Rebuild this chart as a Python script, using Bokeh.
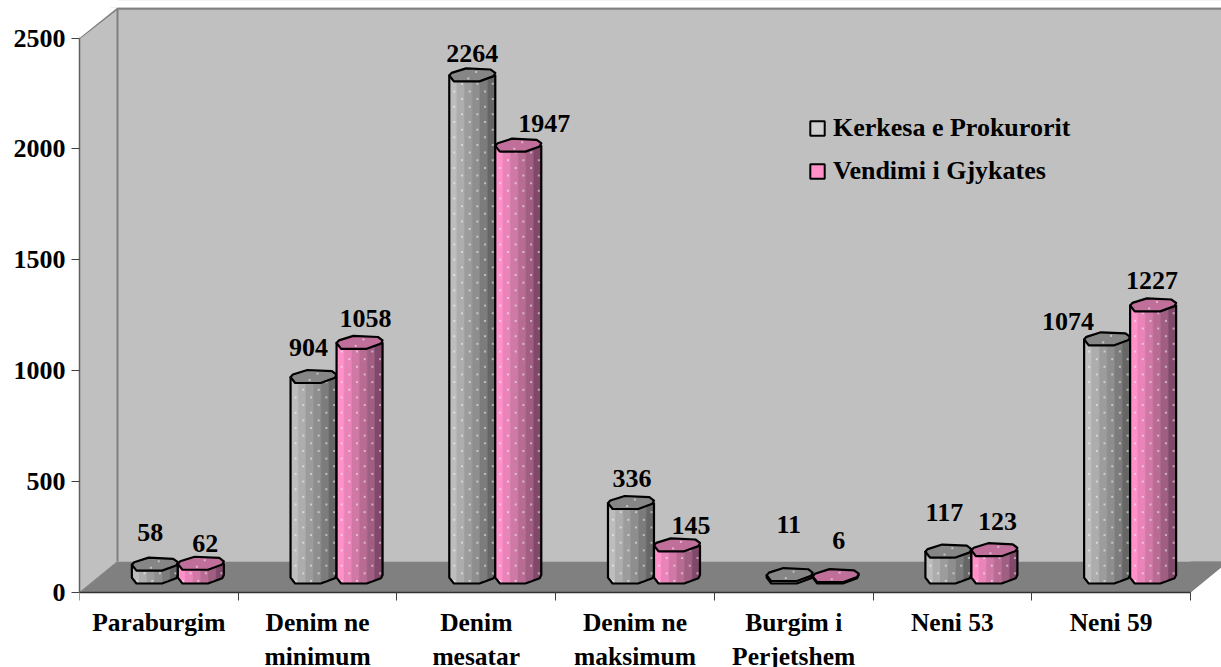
import numpy as np
from bokeh.core.properties import value
from bokeh.embed import file_html
from bokeh.models import ColumnDataSource, FixedTicker, Legend, LegendItem, Range1d
from bokeh.plotting import figure
from bokeh.resources import INLINE

categories = ["Paraburgim", "Denim ne\nminimum", "Denim\nmesatar", "Denim ne\nmaksimum",
              "Burgim i\nPerjetshem", "Neni 53", "Neni 59"]
kerkesa = [58, 904, 2264, 336, 11, 117, 1074]
vendimi = [62, 1058, 1947, 145, 6, 123, 1227]
y_ticks = [0, 500, 1000, 1500, 2000, 2500]
series_names = ["Kerkesa e Prokurorit", "Vendimi i Gjykates"]

# --- layout (pixels) ---
W, H = 1221, 667
LEFT, BOTTOM_PX = 79, 592
PX_CAT = 158.71
PX_VAL = 0.2218
DEPTH_X, DEPTH_Y = 38, 31
HW, HH = 23, 6.5
FONT = "Liberation Serif"

# label offsets from top-centre of each bar (pixels: right, up)
lab_dx_k = [-4.5, -5, 0, 1, -1, -4, -39]
lab_up_k = [31.6, 29, 21, 24, 50, 38.5, 17]
lab_dx_v = [4.5, 6, 26, 14, 3, 3, -1]
lab_up_v = [20, 24, 22, 19, 35, 28, 24]

GRAY_BANDS = ["#bdbdbd", "#adadad", "#9c9c9c", "#8e8e8e", "#7c7c7c", "#666666"]
PINK_BANDS = ["#ff90c8", "#e884b8", "#d078a6", "#b86c94", "#a05f82", "#80486a"]
GRAY_TOP, PINK_TOP = "#868686", "#c06f9b"

TOP_OCT = [(-1, -.1), (-.9, .3), (-.27, 1), (.8, .82), (1, .3), (.93, -.2), (.31, -1), (-.8, -1)]
LOW_EDGE = [(-1, -.1), (-.8, -1), (.31, -1), (.93, -.2), (1, .3)]


def dx(px):
    return px / PX_CAT


def dy(px):
    return px / PX_VAL


xmax = (W - LEFT) / PX_CAT
ymax = BOTTOM_PX / PX_VAL
ymin = -(H - BOTTOM_PX) / PX_VAL
p = figure(width=W, height=H, output_backend="svg", toolbar_location=None,
           x_range=Range1d(0, xmax), y_range=Range1d(ymin, ymax),
           min_border_left=LEFT, min_border_right=0, min_border_top=0,
           min_border_bottom=0, outline_line_color=None,
           background_fill_color=None)
p.styles = {"position": "absolute", "left": "0px", "top": "0px"}
p.grid.visible = False

n = len(categories)
# walls and floor
p.quad(left=dx(DEPTH_X), right=xmax + 1, bottom=dy(DEPTH_Y), top=ymax, fill_color="#c0c0c0", line_color=None)
p.patch([0, dx(DEPTH_X), dx(DEPTH_X), 0], [0, dy(DEPTH_Y), ymax, 2500],
        fill_color="#c0c0c0", line_color=None)
p.patch([0, dx(DEPTH_X), xmax + 1, n],
        [0, dy(DEPTH_Y), dy(DEPTH_Y), 0],
        fill_color="#808080", line_color=None)
p.patch([n, n + dx(DEPTH_X), n + dx(DEPTH_X), n], [0, dy(DEPTH_Y), 0, 0], fill_color="white", line_color=None)
p.patch([n, n + dx(DEPTH_X), n], [0, dy(DEPTH_Y), dy(DEPTH_Y)], fill_color="#808080", line_color=None)
p.line([0, dx(DEPTH_X), dx(DEPTH_X)], [2500, ymax - dy(8), dy(DEPTH_Y)], line_color="#808080", line_width=2)
p.line([dx(DEPTH_X), xmax + 1], [ymax - dy(8), ymax - dy(8)], line_color="#808080", line_width=2.5)
p.quad(left=0, right=xmax + 1, bottom=ymax - dy(7), top=ymax, fill_color="white", line_color=None)
p.patch([0, dx(DEPTH_X), 0], [2500, ymax - dy(7), ymax - dy(7)], fill_color="white", line_color=None)
p.line([0, dx(DEPTH_X)], [0, dy(DEPTH_Y)], line_color="#808080", line_width=1)


def draw_bar(cat, val, sign, bands, top_col):
    cx = cat + .5 + dx(DEPTH_X / 2) + sign * dx(HW)
    base = dy(DEPTH_Y / 2)
    top = base + val
    lx = np.array([q[0] for q in LOW_EDGE])
    ly = np.array([q[1] for q in LOW_EDGE])
    edges = np.linspace(-1, 1, len(bands) + 1)
    for i, c in enumerate(bands):
        a, b = edges[i], edges[i + 1]
        xs = sorted({a, b, *[t for t in lx if a < t < b]})
        low_x = [cx + dx(HW * t) for t in xs]
        low_y = [base + dy(HH * np.interp(t, lx, ly)) for t in xs]
        p.patch([low_x[0]] + low_x + [low_x[-1]], [top] + low_y + [top], fill_color=c, line_color=c, line_width=.5)
    # lattice of dots
    dot_x, dot_y = [], []
    for c in range(6):
        nx = (-HW + 5 + c * 7.7) / HW
        for r in range(0, 80):
            py = -HH + 2.5 + (r * 15.3) + (7.65 if c % 2 else 0)
            if py < val * PX_VAL - HH + 1 and py / HH >= np.interp(nx, lx, ly):
                dot_x.append(cx + dx(HW * nx))
                dot_y.append(base + dy(py))
    if dot_x:
        p.scatter(dot_x, dot_y, marker="square", size=2, fill_color="white", fill_alpha=.5, line_color=None)
    # outline of body
    out_x = [cx + dx(-HW)] + [cx + dx(HW * q[0]) for q in LOW_EDGE] + [cx + dx(HW)]
    out_y = [top] + [base + dy(HH * q[1]) for q in LOW_EDGE] + [top]
    p.line(out_x, out_y, line_color="black", line_width=2.2, line_join="round")
    # top face
    p.patch([cx + dx(HW * q[0]) for q in TOP_OCT], [top + dy(HH * q[1]) for q in TOP_OCT],
            fill_color=top_col, line_color="black", line_width=2.2, line_join="round")
    p.scatter([cx + dx(HW * .17), cx - dx(HW * .17)], [top + dy(HH * .45), top - dy(HH * .55)],
              marker="square", size=2, fill_color="white", fill_alpha=.5, line_color=None)
    return cx, top


lab = {"x": [], "y": [], "t": []}
for i in range(n):
    cx, top = draw_bar(i, kerkesa[i], -1, GRAY_BANDS, GRAY_TOP)
    lab["x"].append(cx + dx(lab_dx_k[i])); lab["y"].append(top + dy(lab_up_k[i])); lab["t"].append(str(kerkesa[i]))
    cx, top = draw_bar(i, vendimi[i], 1, PINK_BANDS, PINK_TOP)
    lab["x"].append(cx + dx(lab_dx_v[i])); lab["y"].append(top + dy(lab_up_v[i])); lab["t"].append(str(vendimi[i]))

p.text("x", "y", text="t", source=ColumnDataSource(lab), text_font=value(FONT), text_font_style="bold",
       text_font_size="26px", text_color="black", text_align="center", text_baseline="middle")

# axes
xa = p.xaxis[0]
xa.fixed_location = 0
xa.ticker = FixedTicker(ticks=[i + .5 for i in range(n)], minor_ticks=list(range(n + 1)))
xa.major_label_overrides = {i + .5: c for i, c in enumerate(categories)}
xa.major_tick_line_color = None
xa.major_tick_in, xa.major_tick_out = 0, 0
xa.minor_tick_in, xa.minor_tick_out = 0, 8
xa.minor_tick_line_color = "#404040"
xa.axis_line_color = "#303030"
xa.axis_line_width = 1.5
xa.bounds = (0, n)
xa.major_label_standoff = 7
xa.major_label_text_font = FONT
xa.major_label_text_font_style = "bold"
xa.major_label_text_font_size = "25.5px"
xa.major_label_text_color = "black"
xa.major_label_text_line_height = 1.2

ya = p.yaxis[0]
ya.ticker = FixedTicker(ticks=y_ticks)
ya.minor_tick_line_color = None
ya.major_tick_in, ya.major_tick_out = 0, 8
ya.major_tick_line_color = "#404040"
ya.axis_line_color = "#606060"
ya.axis_line_width = 1.5
ya.bounds = (0, 2500)
ya.major_label_standoff = 6
ya.major_label_text_font = FONT
ya.major_label_text_font_style = "bold"
ya.major_label_text_font_size = "26px"
ya.major_label_text_color = "black"

# legend
r1 = p.quad(left=[-2], right=[-1], bottom=[-2000], top=[-1900], fill_color="#cfcfcf", line_color="black", line_width=2)
r2 = p.quad(left=[-2], right=[-1], bottom=[-2000], top=[-1900], fill_color="#ff90c8", line_color="black", line_width=2)
leg = Legend(items=[LegendItem(label=series_names[0], renderers=[r1]),
                    LegendItem(label=series_names[1], renderers=[r2])],
             location=(729, 406 + H - BOTTOM_PX), orientation="vertical", background_fill_alpha=0,
             border_line_color=None, padding=0, margin=0, spacing=13, glyph_width=18, glyph_height=18,
             label_standoff=7, label_text_font=FONT, label_text_font_style="bold",
             label_text_font_size="26px", label_text_color="black")
p.add_layout(leg, "center")

open("out.html", "w").write(file_html(p, INLINE))
